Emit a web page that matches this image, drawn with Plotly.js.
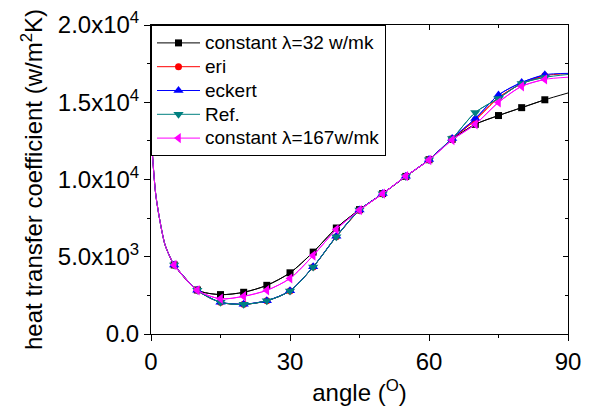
<!DOCTYPE html>
<html>
<head>
<meta charset="utf-8">
<script src="https://cdn.plot.ly/plotly-3.0.1.min.js"></script>
<style>html,body{margin:0;padding:0;background:#fff;}#plot{width:589px;height:408px;}</style>
</head>
<body>
<div id="plot"></div>
<script>
const angle = [0,1,2,3,4,5,10,15,20,25,30,35,40,45,50,55,60,65,70,75,80,85,90];
const lambda32 = [13000,9100,7200,5800,5050,4470,2850,2550,2700,3150,3960,5300,6860,8050,9090,10200,11280,12600,13570,14140,14650,15160,15600];
const eri      = [13000,9100,7200,5800,5050,4470,2830,2050,1920,2150,2790,4340,6300,8000,9080,10200,11280,12630,13850,15300,16200,16720,16850];
const eckert   = [13000,9100,7200,5800,5050,4470,2830,2060,1930,2160,2800,4350,6320,8030,9090,10210,11290,12660,13950,15470,16280,16780,16870];
const ref      = [13000,9100,7200,5800,5050,4470,2830,2050,1920,2150,2790,4340,6300,8020,9085,10200,11280,12650,14340,15250,16220,16610,16800];
const lambda167= [13000,9100,7200,5800,5050,4470,2830,2280,2440,2830,3600,5080,6770,8020,9085,10220,11260,12560,13580,14990,16030,16480,16620];

const seriesNames = ['constant λ=32 w/mk','eri','eckert','Ref.','constant λ=167w/mk'];
const xTickVals = [0,30,60,90];
const xTickText = ['0','30','60','90'];
const xMinor = [15,45,75];
const yTickVals = [0,5000,10000,15000,20000];
const yTickText = ['0.0','5.0x10<sup>3</sup>','1.0x10<sup>4</sup>','1.5x10<sup>4</sup>','2.0x10<sup>4</sup>'];
const yMinor = [2500,7500,12500,17500];

const allY = [lambda32, eri, eckert, ref, lambda167];
const colors = ['#000000','#ff0000','#0000ff','#008080','#ff00ff'];
const symbols = ['square','circle','triangle-up','triangle-down','triangle-left'];
const sizes = [7,7,9,9,9];

const traces = [];
allY.forEach((ys, i) => {
  traces.push({
    x: angle, y: ys, mode: 'lines', type: 'scatter',
    line: {color: colors[i], width: 1, shape: 'spline', smoothing: 0.8},
    showlegend: false, hoverinfo: 'skip'
  });
  const mx = [], my = [];
  angle.forEach((a, k) => { if (a % 5 === 0 && a > 0 && a < 90) { mx.push(a); my.push(ys[k]); } });
  traces.push({
    x: mx, y: my, mode: 'lines+markers', type: 'scatter',
    name: '<span style="font-size:19px">' + seriesNames[i] + '</span>',
    line: {color: colors[i], width: 1, shape: 'spline', smoothing: 0.8},
    marker: {symbol: symbols[i], size: sizes[i], color: colors[i], line: {width: 0}}
  });
});
// frame axes (top/right) with inward ticks
traces.push({x: [angle[0]], y: [lambda32[0]], xaxis: 'x2', yaxis: 'y2', mode: 'markers',
  marker: {opacity: 0}, showlegend: false, hoverinfo: 'skip'});

const fontFam = 'Liberation Sans, Arial, sans-serif';
const layout = {
  width: 589, height: 408,
  margin: {l: 151, r: 21, t: 25, b: 74},
  paper_bgcolor: '#fff', plot_bgcolor: '#fff',
  font: {family: fontFam, size: 24, color: '#000'},
  showlegend: true,
  legend: {x: 0, y: 1, xanchor: 'left', yanchor: 'top', bgcolor: '#fff',
    bordercolor: '#000', borderwidth: 1, font: {size: 16, family: fontFam},
    tracegroupgap: 0, itemwidth: 43},
  xaxis: {range: [0, 90], tickmode: 'array', tickvals: xTickVals, ticktext: xTickText,
    ticks: 'outside', ticklen: 6, tickwidth: 1, tickcolor: '#000',
    minor: {tickmode: 'array', tickvals: xMinor, ticks: 'outside', ticklen: 3, tickcolor: '#000'},
    showline: true, linecolor: '#000', linewidth: 1, showgrid: false, zeroline: false,
    tickfont: {size: 24}, title: {text: 'angle (<sup>O</sup>)', font: {size: 24}, standoff: 10}},
  yaxis: {range: [0, 20000], tickmode: 'array', tickvals: yTickVals, ticktext: yTickText,
    ticks: 'outside', ticklen: 6, tickwidth: 1, tickcolor: '#000',
    minor: {tickmode: 'array', tickvals: yMinor, ticks: 'outside', ticklen: 3, tickcolor: '#000'},
    showline: true, linecolor: '#000', linewidth: 1, showgrid: false, zeroline: false,
    tickfont: {size: 24}, title: {text: 'heat transfer coefficient (w/m<sup>2</sup>K)', font: {size: 24}, standoff: 8}},
  xaxis2: {overlaying: 'x', side: 'top', range: [0, 90], tickmode: 'array', tickvals: xTickVals,
    ticks: 'inside', ticklen: 5, tickcolor: '#000', showticklabels: false,
    minor: {tickmode: 'array', tickvals: xMinor, ticks: 'inside', ticklen: 3, tickcolor: '#000'},
    showline: true, linecolor: '#000', linewidth: 1, showgrid: false, zeroline: false},
  yaxis2: {overlaying: 'y', side: 'right', range: [0, 20000], tickmode: 'array', tickvals: yTickVals,
    ticks: 'inside', ticklen: 5, tickcolor: '#000', showticklabels: false,
    minor: {tickmode: 'array', tickvals: yMinor, ticks: 'inside', ticklen: 3, tickcolor: '#000'},
    showline: true, linecolor: '#000', linewidth: 1, showgrid: false, zeroline: false}
};
Plotly.newPlot('plot', traces, layout, {displayModeBar: false, staticPlot: true});
</script>
</body>
</html>
